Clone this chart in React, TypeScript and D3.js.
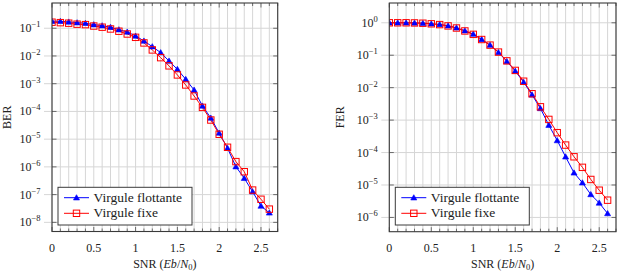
import React from 'react'
import * as d3 from 'd3'

// SNR points (Eb/N0, dB)
const snr = [0, 0.1, 0.2, 0.3, 0.4, 0.5, 0.6, 0.7, 0.8, 0.9, 1.0, 1.1, 1.2, 1.3,
  1.4, 1.5, 1.6, 1.7, 1.8, 1.9, 2.0, 2.1, 2.2, 2.3, 2.4, 2.5, 2.6]

const berFloat = [0.179, 0.178, 0.169, 0.159, 0.151, 0.135, 0.124, 0.109, 0.089, 0.0735,
  0.0527, 0.0348, 0.0217, 0.0132, 6.6e-3, 3.3e-3, 1.44e-3, 5.9e-4, 1.58e-4, 5.8e-5,
  1.67e-5, 4.7e-6, 1.02e-6, 3.9e-7, 1.27e-7, 3.9e-8, 2.2e-8]
const berFixed = [0.165, 0.159, 0.152, 0.14, 0.135, 0.12, 0.109, 0.094, 0.078, 0.062,
  0.047, 0.0295, 0.0165, 8.7e-3, 4.4e-3, 2.07e-3, 9e-4, 3.6e-4, 1.4e-4, 4.9e-5,
  1.5e-5, 5.1e-6, 1.55e-6, 6.7e-7, 1.46e-7, 6.8e-8, 3.0e-8]

const ferFloat = [1, 1, 1, 0.99, 0.97, 0.93, 0.89, 0.81, 0.70, 0.57,
  0.449, 0.308, 0.205, 0.122, 0.0645, 0.0325, 0.0148, 6.0e-3, 2.29e-3, 7.0e-4,
  2.35e-4, 7.4e-5, 2.37e-5, 1.17e-5, 5.1e-6, 2.8e-6, 1.32e-6]
const ferFixed = [1, 1, 1, 0.99, 0.97, 0.93, 0.88, 0.80, 0.69, 0.56,
  0.44, 0.305, 0.205, 0.125, 0.067, 0.034, 0.0158, 6.5e-3, 2.57e-3, 1.05e-3,
  4.1e-4, 1.7e-4, 7.4e-5, 3.5e-5, 1.48e-5, 6.9e-6, 3.4e-6]

const xTickLabels = [0, 0.5, 1, 1.5, 2, 2.5]
const berExponents = [-1, -2, -3, -4, -5, -6, -7, -8]
const ferExponents = [0, -1, -2, -3, -4, -5, -6]
const seriesNames = ['Virgule flottante', 'Virgule fixe']

const FONT = 'Liberation Serif, DejaVu Serif, serif'
const FRAME = '#3a3a3a'
const GRID = '#d6d6d6'
const BLUE = '#0000ff'
const RED = '#ff0000'

function Triangle({ x, y }) {
  const path = d3.symbol(d3.symbolTriangle, 16)()
  return <path d={path} transform={`translate(${x},${y + 0.5})`} fill={BLUE} stroke={BLUE} strokeWidth={0.6} />
}

function Square({ x, y }) {
  return <rect x={x - 3.2} y={y - 3.2} width={6.4} height={6.4} fill="none" stroke={RED} strokeWidth={1} />
}

function Panel({ x0, x1, y0, y1, yDomain, exps, yLabel, labelX, floatVals, fixedVals }) {
  const xScale = d3.scaleLinear().domain([0, 2.7]).range([x0, x1])
  const yScale = d3.scaleLog().domain(yDomain).range([y1, y0])
  const line = d3.line().x(d => xScale(d[0])).y(d => yScale(d[1]))
  const floatPts = snr.map((s, i) => [s, floatVals[i]])
  const fixedPts = snr.map((s, i) => [s, fixedVals[i]])
  const minor = xScale.ticks(27)
  const cx = (x0 + x1) / 2
  const cy = (y0 + y1) / 2
  const lx = x0 + 6, ly0 = 187.3, ly1 = 225

  return (
    <g fontFamily={FONT} fill="#222">
      <defs>
        <clipPath id={`clip${x0}`}>
          <rect x={x0} y={y0} width={x1 - x0} height={y1 - y0} />
        </clipPath>
      </defs>
      {/* grid */}
      {minor.map((t, i) => (
        <line key={'vg' + i} x1={xScale(t)} x2={xScale(t)} y1={y0} y2={y1} stroke={GRID} strokeWidth={1} />
      ))}
      {exps.map(e => (
        <line key={'hg' + e} x1={x0 - 8} x2={x1} y1={yScale(Math.pow(10, e))} y2={yScale(Math.pow(10, e))}
          stroke={GRID} strokeWidth={1} />
      ))}
      {/* ticks */}
      {minor.map((t, i) => {
        const major = Math.abs(t * 2 - Math.round(t * 2)) < 1e-6
        const len = major ? 4.5 : 3
        return (
          <g key={'mt' + i} stroke={FRAME} strokeWidth={0.7}>
            <line x1={xScale(t)} x2={xScale(t)} y1={y1} y2={y1 - len} />
            <line x1={xScale(t)} x2={xScale(t)} y1={y0} y2={y0 + len} />
          </g>
        )
      })}
      {exps.map(e => (
        <g key={'yt' + e} stroke={FRAME} strokeWidth={0.7}>
          <line x1={x0} x2={x0 + 4.5} y1={yScale(Math.pow(10, e))} y2={yScale(Math.pow(10, e))} />
          <line x1={x1} x2={x1 - 4.5} y1={yScale(Math.pow(10, e))} y2={yScale(Math.pow(10, e))} />
        </g>
      ))}
      {/* data */}
      <g clipPath={`url(#clip${x0})`}>
        <path d={line(floatPts)} fill="none" stroke={BLUE} strokeWidth={1} />
        <path d={line(fixedPts)} fill="none" stroke={RED} strokeWidth={1} />
        {floatPts.map((d, i) => <Triangle key={'t' + i} x={xScale(d[0])} y={yScale(d[1])} />)}
        {fixedPts.map((d, i) => <Square key={'s' + i} x={xScale(d[0])} y={yScale(d[1])} />)}
      </g>
      <rect x={x0} y={y0} width={x1 - x0} height={y1 - y0} fill="none" stroke={FRAME} strokeWidth={1.1} />
      {/* tick labels */}
      {xTickLabels.map(t => (
        <text key={'xl' + t} x={xScale(t)} y={251.5} textAnchor="middle" fontSize={12}>{t}</text>
      ))}
      {exps.map(e => (
        <text key={'yl' + e} x={x0 - 11.5} y={yScale(Math.pow(10, e)) + 4} textAnchor="end" fontSize={12}>
          10<tspan dy={-5} fontSize={8.5}>{e < 0 ? '\u2212' + (-e) : e}</tspan>
        </text>
      ))}
      <text transform={`translate(${labelX},${cy}) rotate(-90)`} textAnchor="middle" fontSize={12}>{yLabel}</text>
      <text x={cx} y={267.5} textAnchor="middle" fontSize={12}>
        SNR (<tspan fontStyle="italic">Eb</tspan>/<tspan fontStyle="italic">N</tspan>
        <tspan dy={2.5} fontSize={8.5}>0</tspan><tspan dy={-2.5}>)</tspan>
      </text>
      {/* legend */}
      <rect x={lx} y={ly0} width={134} height={ly1 - ly0} fill="#fff" stroke={FRAME} strokeWidth={1} />
      <line x1={lx + 6} x2={lx + 31} y1={197.7} y2={197.7} stroke={BLUE} strokeWidth={1} />
      <Triangle x={lx + 18.5} y={197.7} />
      <text x={lx + 35.5} y={201.8} fontSize={13.5}>{seriesNames[0]}</text>
      <line x1={lx + 6} x2={lx + 31} y1={213.3} y2={213.3} stroke={RED} strokeWidth={1} />
      <Square x={lx + 18.5} y={213.3} />
      <text x={lx + 35.5} y={217.4} fontSize={13.5}>{seriesNames[1]}</text>
    </g>
  )
}

export default function App() {
  return (
    <svg width={618} height={272} style={{ position: 'absolute', left: 0, top: 0, background: '#fff' }}>
      <Panel x0={52} x1={277.7} y0={3} y1={231.5} yDomain={[Math.pow(10, -8.33), Math.pow(10, -0.09)]}
        exps={berExponents} yLabel="BER" labelX={11} floatVals={berFloat} fixedVals={berFixed} />
      <Panel x0={389.3} x1={616} y0={3} y1={231.7} yDomain={[Math.pow(10, -6.44), Math.pow(10, 0.61)]}
        exps={ferExponents} yLabel="FER" labelX={343.5} floatVals={ferFloat} fixedVals={ferFixed} />
    </svg>
  )
}
